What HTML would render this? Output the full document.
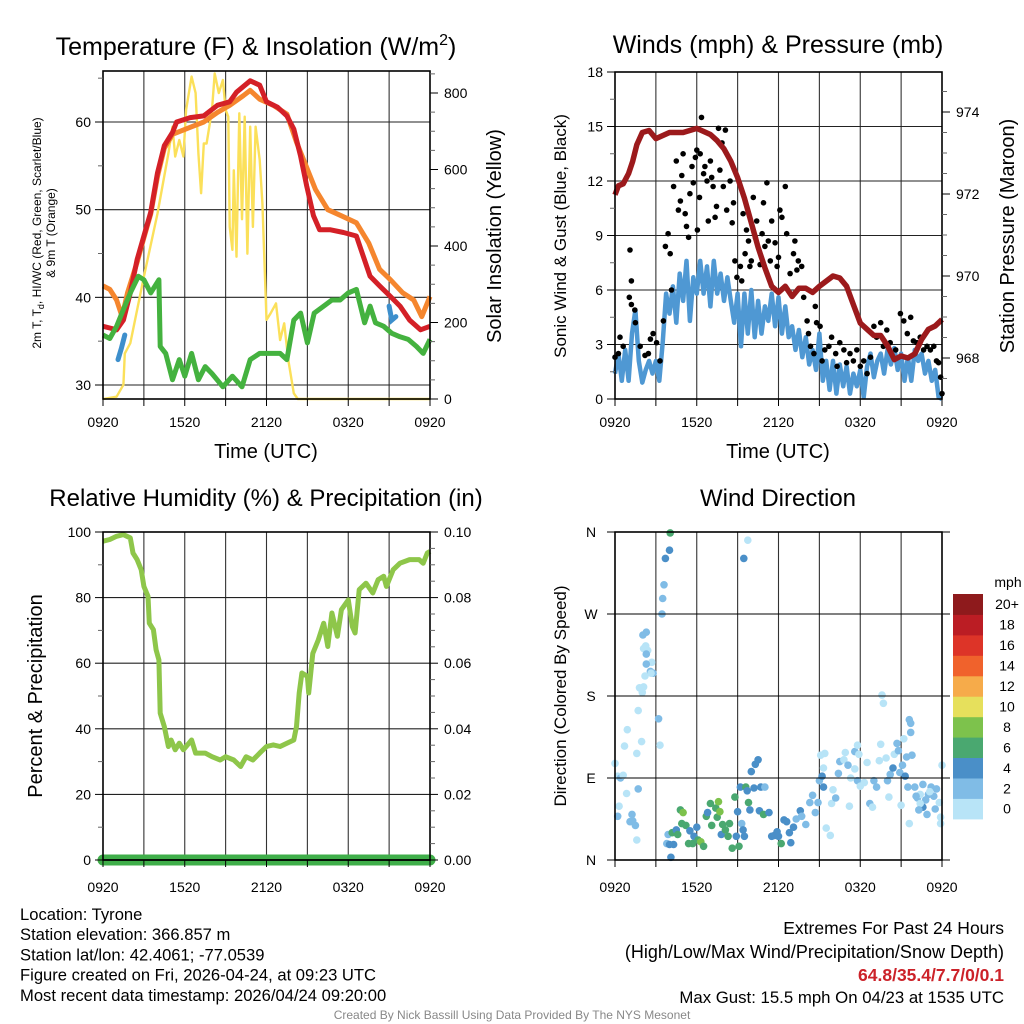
<!DOCTYPE html>
<html><head><meta charset="utf-8"><style>
html,body{margin:0;padding:0;background:#fff;}
svg{display:block;font-family:"Liberation Sans",Arial,sans-serif;}
</style></head><body>
<svg id="fig" width="1024" height="1024" viewBox="0 0 1024 1024"></svg>
<script>
// ---------- DATA ----------
const xTickLabels = ["0920","1520","2120","0320","0920"];
const tempTicks = [30,40,50,60];
const insolTicks = [0,200,400,600,800];
const windTicks = [0,3,6,9,12,15,18];
const presTicks = [968,970,972,974];
const rhTicks = [0,20,40,60,80,100];
const precipTicks = ["0.00","0.02","0.04","0.06","0.08","0.10"];
const dirTickLabels = ["N","E","S","W","N"];
const speedBins = ["0","2","4","6","8","10","12","14","16","18","20+"];
const speedColors = ["#b8e4f7","#80bce6","#4a8fc8","#4aa870","#7dc24c","#e6e05c","#f6ab4a","#f0622c","#dd3428","#bb1d24","#8e1a1c"];

const tHours = [0,0.5,1,1.5,2,2.5,3,3.5,4,4.5,5.1,5.4,6.4,7.4,8.4,9.3,9.8,10.8,11.5,12,12.8,13.5,14,14.5,14.95,15.45,15.9,16.7,17.65,18.6,19.1,19.6,20.3,21.1,21.8,22.5,23.3,24];
const temp2m = [36.7,36.5,36.3,37.4,40.5,44.3,47,49.7,54.2,57.3,58.8,60,60.5,60.7,61.9,62.3,63.4,64.7,64.2,62.3,61.7,60.7,59.2,56.1,52.7,49.3,47.7,47.7,47.4,47,44.7,42.4,41.3,40.1,39,37.4,36.3,36.7];
const oHours = [0,0.5,1,1.4,1.8,2.5,3,3.5,4,4.5,5.1,6.4,7.4,8.4,9.3,10.3,10.8,11.5,12.5,13.5,14.2,14.8,15.6,16.5,17.5,18.6,19.5,20.3,21.1,22,22.8,23.4,24];
const temp9m = [41.3,40.9,39.7,37.8,40.5,44,46.8,49.5,53.8,57,58.6,59.4,60,61.1,61.9,63,63.6,62.6,61.9,60.9,57.7,55.4,52.3,50,49.3,48.5,46.2,43.2,42,40.5,39.7,37.8,40.1];
const dHours = [0,0.5,1,1.5,2,2.6,3,3.5,4.1,4.2,4.6,5.1,5.6,6,6.5,7,7.5,8,8.8,9.5,10.2,10.8,11.5,12.3,13,13.5,14,14.5,15,15.5,16.2,16.8,17.4,18,18.6,19.2,19.6,20,20.6,21.2,21.8,22.4,23,23.5,24];
const dewpt = [35.7,35.3,36.7,38.6,40.5,42.4,42,40.5,42,34.4,33.6,30.6,32.9,31,33.6,30.6,32.1,31.3,29.8,31,29.8,32.9,33.6,33.6,33.6,32.9,37.4,38.2,34.8,38.2,39,39.7,39.7,40.5,40.9,37.1,39,37.1,36.7,35.9,35.5,35.2,34.4,33.6,35.2];
const wcHoursA = [1.1,1.35,1.6];
const wcA = [32.9,34.2,35.7];
const wcHoursB = [21,21.2,21.5];
const wcB = [39,37.4,37.8];
const iHours = [0,1,1.5,1.6,2,3,4,4.8,5.1,5.3,5.6,5.9,6.1,6.5,6.8,7,7.2,7.4,7.6,8,8.2,8.5,8.8,9,9.2,9.3,9.5,9.6,9.8,10,10.2,10.4,10.6,10.8,11,11.2,11.5,11.7,12,12.3,12.7,13,13.3,13.6,14,14.3,24];
const insol = [0,6,37,119,146,320,485,642,712,634,677,634,756,843,800,642,538,668,668,756,851,800,834,756,738,450,390,598,372,747,470,738,380,712,450,712,625,512,207,224,250,154,198,102,15,0,0];

const pHours = [0,0.25,0.6,1,1.3,1.6,2,2.5,3,4,5,6,7,7.5,8,8.5,9,9.5,10,10.5,11,11.5,12,12.5,13,13.5,14,14.5,15,16,16.5,17,17.5,18,18.5,19,19.5,20,20.5,21,21.5,22,22.5,23,23.5,24];
const pressure = [971.98,972.2,972.25,972.5,972.8,973.2,973.5,973.55,973.35,973.5,973.5,973.6,973.45,973.3,973.1,972.8,972.4,971.9,971.3,970.7,970.2,969.75,969.6,969.75,969.5,969.7,969.7,969.6,969.75,970,969.95,969.75,969.3,968.85,968.7,968.55,968.55,968.3,967.96,968.05,968,968.1,968.45,968.7,968.78,968.94];
const wHours = [0,0.25,0.5,0.75,1,1.25,1.5,1.75,2,2.25,2.5,2.75,3,3.25,3.5,3.75,4,4.25,4.5,4.75,5,5.25,5.5,5.75,6,6.25,6.5,6.75,7,7.25,7.5,7.75,8,8.25,8.5,8.75,9,9.25,9.5,9.75,10,10.25,10.5,10.75,11,11.25,11.5,11.75,12,12.25,12.5,12.75,13,13.25,13.5,13.75,14,14.25,14.5,14.75,15,15.25,15.5,15.75,16,16.25,16.5,16.75,17,17.25,17.5,17.75,18,18.25,18.5,18.75,19,19.25,19.5,19.75,20,20.25,20.5,20.75,21,21.25,21.5,21.75,22,22.25,22.5,22.75,23,23.25,23.5,23.75,24];
const sonic = [1.4,2.5,1.0,2.7,1.0,3.6,4.9,2.1,0.9,1.6,2.1,1.4,2.1,1.0,3.1,5.8,4.7,6.2,4.2,6.9,5.4,7.6,4.3,6.7,5.8,7.6,5.8,7.3,5.1,7.6,5.8,6.9,5.4,6.7,5.4,4.2,5.8,2.9,5.8,3.6,6.0,3.4,5.4,3.6,5.1,4.3,5.8,4.0,5.6,3.6,5.1,3.4,4.0,2.7,3.8,2.3,3.4,1.9,2.7,1.6,3.6,1.0,2.1,0.5,2.1,0.3,1.9,0.7,1.8,0.3,1.4,0.7,1.6,0.1,1.8,2.5,1.2,2.1,2.5,1.4,2.7,1.9,2.8,1.6,2.5,1.0,2.3,1.0,2.7,2.1,2.5,1.4,2.1,1.0,1.6,0.1,0];
const gustHours = [0,0.25,0.37,0.6,1.1,1.2,1.05,1.2,1.45,1.5,1.85,2.2,2.45,2.6,2.8,3.05,3.3,3.55,3.7,3.9,4.05,4.15,4.3,4.5,4.65,4.8,4.9,5,5.15,5.25,5.4,5.5,5.65,5.75,5.9,6,6.05,6.2,6.25,6.35,6.5,6.6,6.75,6.85,7,7.1,7.2,7.35,7.45,7.6,7.7,7.85,7.95,8.1,8.2,8.45,8.6,8.7,8.8,8.95,9.2,9.3,9.4,9.55,9.65,9.8,9.9,10,10.15,10.3,10.4,10.65,10.8,10.9,11,11.15,11.25,11.4,11.5,11.75,11.9,12,12.1,12.25,12.5,12.6,12.85,13.1,13.2,13.35,13.45,13.7,13.85,14.1,14.2,14.35,14.6,14.7,14.8,15.05,15.2,15.4,15.7,15.9,16.2,16.3,16.5,16.8,17,17.25,17.5,17.75,18,18.25,18.5,18.75,19,19.2,19.5,19.7,19.95,20.2,20.6,20.95,21.2,21.45,21.7,21.9,22.15,22.4,22.65,22.9,23.15,23.4,23.6,23.75,23.9,24];
const gusts = [2.3,2.5,3.4,2.9,8.2,6.5,5.6,5.2,4.9,4.2,2.9,2.4,2.5,3.3,3.6,3.1,2.1,4.3,8.4,9.1,8.0,6.0,11.7,13.1,10.4,10.9,12.3,13.5,10.2,9.5,8.9,11.3,12.8,11.9,13.3,13.7,9.3,11.1,13.5,15.5,12.4,12.8,12.0,9.8,13.1,12.2,11.7,10.0,10.6,14.9,12.6,14.1,11.7,14.8,10.4,12.0,9.7,10.8,7.6,6.7,7.3,6.5,10.2,8.0,9.3,8.7,7.3,7.6,11.1,8.9,9.8,7.4,9.1,10.8,8.4,11.9,8.7,7.6,9.8,8.6,7.3,7.8,10.4,10.0,11.7,9.1,6.9,8.0,8.7,7.1,7.6,7.3,5.6,4.3,3.6,2.9,2.5,5.1,4.2,4.0,2.1,2.7,2.9,3.4,2.5,1.8,3.1,2.7,2.0,2.5,2.1,2.7,1.8,2.1,1.4,2.3,4.0,3.4,4.2,2.9,3.8,3.1,2.7,4.7,4.3,3.6,4.5,3.2,3.1,3.4,2.7,2.9,2.7,2.9,2.1,2.0,1.2,0.3];

const rhHours = [0,0.5,1,1.5,2,2.2,2.5,2.8,3,3.3,3.4,3.7,3.9,4.1,4.2,4.5,4.8,5,5.3,5.6,5.9,6.5,6.8,7.5,8,8.6,9,9.6,10.1,10.5,11,11.5,12,12.5,13,13.5,14,14.2,14.4,14.6,15,15.1,15.4,15.8,16.2,16.5,16.8,17.2,17.5,18,18.3,18.5,18.8,19.3,19.8,20.2,20.6,20.8,21.3,21.8,22.5,23.2,23.5,23.8,24];
const rh = [97.2,97.7,98.7,99.2,98.2,93.6,91.6,88.5,83.4,80.4,72.2,70.2,64.1,61,44.8,40.7,34.6,36.6,33.6,35.6,33.6,36.6,32.6,32.6,31.5,30.5,31.5,30.5,28.5,31.5,30.5,32.6,34.6,35.1,34.6,35.6,36.6,40.7,50.9,57,56,50.9,63,67.1,72.2,65.1,75.3,68.2,76.3,79.3,71.2,69.2,82.4,84.4,81.4,85.5,86.5,83.4,88.5,90.5,91.6,91.6,90.5,93.6,94.1];
const precipHours = [0,24];
const precip = [0,0];

// wind direction observations (hour since 0920 UTC, degrees, mph)
const dirHours = [
 0,0.2,0.4,0.6,0.85,0.3,0.2,0.7,0.9,1.6,
 1.1,1.3,1.25,1.5,1.7,1.6,1.95,1.7,2.0,2.1,
 1.8,2.2,2.6,2.7,2.8,2.3,2.4,2.1,2.05,2.3,
 2.65,2.3,2.25,3.2,3.3,3.45,3.5,3.6,3.7,4.0,
 4.05,9.45,9.75,3.8,3.9,4.0,4.1,4.3,4.2,4.5,
 4.6,4.8,4.9,5.0,5.2,5.4,5.5,5.7,5.8,6.0,
 6.1,6.3,6.5,6.7,6.8,7.0,7.1,7.4,7.5,7.6,
 7.7,7.8,7.9,8.1,8.3,8.4,8.6,8.8,8.9,9.0,
 9.1,9.2,9.3,9.4,9.5,9.6,9.7,9.8,9.9,10.0,
 10.2,10.3,10.5,10.6,10.7,10.9,11.0,11.3,11.5,11.7,
 11.9,12.0,12.2,12.4,12.6,12.8,12.9,13.1,13.3,13.6,
 13.7,14.0,14.3,14.5,14.7,14.9,15.0,15.2,15.3,15.5,
 15.8,15.9,15.3,15.1,15.4,16.2,16.0,16.4,16.5,16.8,
 16.9,17.1,17.3,17.2,17.6,17.8,17.9,17.6,17.8,18.0,
 18.3,18.5,18.7,18.9,19.0,19.2,19.4,19.5,19.6,19.7,
 19.9,20.0,20.1,20.2,20.4,20.5,20.7,20.8,20.9,21.1,
 21.2,21.4,21.6,21.7,21.7,21.3,21.5,21.8,22.0,22.2,
 22.4,22.6,22.8,23.0,23.2,23.4,23.6,23.8,24.0,23.9,
 23.9,22.4,22.9,23.1,22.6,21.6,21.0,23.5,22.1,22.3];
const dirDeg = [
 106,92,90,93,73,59,48,125,143,22,
 42,43,50,38,78,117,130,164,184,190,
 189,202,207,217,205,215,230,232,247,226,
 205,250,235,155,126,270,287,302,331,340,
 359,331,351,18,28,17,3,17,30,33,
 28,55,40,52,38,18,32,18,26,36,
 22,20,15,48,52,62,38,57,47,64,
 53,28,39,33,26,40,13,69,26,53,
 15,80,40,33,26,80,76,63,55,97,
 79,105,110,54,80,50,80,52,26,27,
 31,26,18,44,42,30,19,36,45,54,
 48,39,63,71,52,63,87,92,80,35,
 27,62,101,115,117,68,77,95,108,110,
 118,104,90,59,119,126,116,100,87,81,
 85,107,62,58,87,80,109,127,181,172,
 112,87,69,94,101,116,128,120,96,104,
 133,113,154,150,140,92,80,115,80,68,
 72,58,66,72,80,70,78,63,104,47,
 40,62,50,75,83,40,60,56,70,55];
const dirSpeed = [
 1,1,3,1,1,1,3,1,1,1,
 3,3,3,3,3,1,1,1,1,1,
 1,1,3,1,3,3,1,1,3,3,
 1,3,1,3,1,3,3,3,5,5,
 7,5,1,3,3,5,5,5,7,5,
 7,7,7,9,7,7,5,7,5,5,
 7,9,7,7,5,7,7,7,7,9,
 9,5,7,7,7,7,7,7,5,5,
 7,5,3,5,5,7,5,7,5,5,
 5,5,5,5,5,7,3,5,5,5,
 5,5,7,5,5,5,5,5,3,5,
 3,3,3,3,3,3,3,5,5,1,
 1,1,1,1,1,3,1,3,3,1,
 1,3,1,1,3,1,1,1,3,1,
 1,1,3,1,3,3,1,1,1,1,
 1,3,1,3,5,1,3,3,3,3,
 1,3,3,3,3,5,3,3,3,3,
 1,5,3,3,3,3,3,1,1,1,
 1,1,3,1,3,1,1,3,3,3];

// ---------- HELPERS ----------
const NS = "http://www.w3.org/2000/svg";
const svg = document.getElementById("fig");
function mk(tag, attrs, parent){
  const e = document.createElementNS(NS, tag);
  for (const k in attrs) e.setAttribute(k, attrs[k]);
  (parent||svg).appendChild(e);
  return e;
}
function txt(s, x, y, size, anchor, parent, extra){
  const t = mk("text", Object.assign({x:x, y:y, "font-size":size, "text-anchor":anchor||"middle", fill:"#000"}, extra||{}), parent);
  t.textContent = s;
  return t;
}
function makeX(x0, x1){ return h => x0 + (x1 - x0) * h / 24; }
function makeY(v0, v1, y0, y1){ return v => y0 + (y1 - y0) * (v - v0) / (v1 - v0); }
function pathFrom(xs, ys, fx, fy){
  let d = "";
  for (let i = 0; i < xs.length; i++) d += (i ? "L" : "M") + fx(xs[i]).toFixed(1) + "," + fy(ys[i]).toFixed(1);
  return d;
}
function frame(g, x0, y0, x1, y1, hGrid, fy){
  for (let k = 1; k < 8; k++){
    const x = x0 + (x1 - x0) * k / 8;
    const l = mk("line", {x1:x, y1:y0, x2:x, y2:y1, stroke:"#333", "stroke-width":1.1}, g);
    
    
  }
  hGrid.forEach(v => {
    const y = fy(v);
    const l = mk("line", {x1:x0, y1:y, x2:x1, y2:y, stroke:"#222", "stroke-width":1.1}, g);
    
    
  });
}
function border(g, x0, y0, x1, y1){
  const r = mk("rect", {x:x0, y:y0, width:x1-x0, height:y1-y0, fill:"none", stroke:"#000", "stroke-width":1.6}, g);
  
  
}
function xAxis(g, x0, x1, yb, labY){
  for (let k = 0; k <= 8; k++){
    const x = x0 + (x1 - x0) * k / 8;
    mk("line", {x1:x, y1:yb, x2:x, y2:yb+7, stroke:"#000", "stroke-width":1}, g);
  }
  xTickLabels.forEach((s, i) => {
    const t = txt(s, x0 + (x1 - x0) * i / 4, labY, 14, "middle", g);
    
    
  });
}
function yTicksLeft(g, vals, fy, x0, labels, minorVals){
  vals.forEach((v, i) => {
    const y = fy(v);
    mk("line", {x1:x0-8, y1:y, x2:x0, y2:y, stroke:"#000", "stroke-width":1}, g);
    const t = txt(labels ? labels[i] : String(v), x0-12, y+5, 14, "end", g);
    
    
  });
  (minorVals||[]).forEach(v => { const y = fy(v); mk("line", {x1:x0-5, y1:y, x2:x0, y2:y, stroke:"#666", "stroke-width":1}, g); });
}
function yTicksRight(g, vals, fy, x1, labels, minorVals){
  vals.forEach((v, i) => {
    const y = fy(v);
    mk("line", {x1:x1, y1:y, x2:x1+8, y2:y, stroke:"#000", "stroke-width":1}, g);
    const t = txt(labels ? labels[i] : String(v), x1+14, y+5, 14, "start", g);
    
    
  });
  (minorVals||[]).forEach(v => { const y = fy(v); mk("line", {x1:x1, y1:y, x2:x1+5, y2:y, stroke:"#666", "stroke-width":1}, g); });
}
function rotTitle(g, s, x, y, size){
  return txt(s, 0, 0, size, "middle", g, {transform:"translate("+x+","+y+") rotate(-90)"});
}
function range(a, b, s){ const r=[]; for (let v=a; v<=b+1e-9; v+=s) r.push(+v.toFixed(4)); return r; }

// ---------- PANEL 1: Temperature ----------
(function(){
  const g = mk("g", {});
  
  
  const X0=103, X1=430, Y0=71, Y1=399;
  const fx = makeX(X0, X1);
  const fy = makeY(30, 60, 385, 122);
  const fi = makeY(0, 800, 399, 93);
  frame(g, X0, Y0, X1, Y1, tempTicks, fy);
  const insolLine = mk("path", {d:pathFrom(iHours, insol, fx, fi), fill:"none", stroke:"#fbe05a", "stroke-width":2.4, "stroke-linejoin":"round"}, g);
  
  
  const o = mk("path", {d:pathFrom(oHours, temp9m, fx, fy), fill:"none", stroke:"#f5862e", "stroke-width":5, "stroke-linejoin":"round"}, g);
  
  
  const r = mk("path", {d:pathFrom(tHours, temp2m, fx, fy), fill:"none", stroke:"#d42027", "stroke-width":5, "stroke-linejoin":"round"}, g);
  
  
  const d = mk("path", {d:pathFrom(dHours, dewpt, fx, fy), fill:"none", stroke:"#44b23f", "stroke-width":5, "stroke-linejoin":"round"}, g);
  
  
  [[wcHoursA,wcA],[wcHoursB,wcB]].forEach(p => {
    const w = mk("path", {d:pathFrom(p[0], p[1], fx, fy), fill:"none", stroke:"#3d8fcc", "stroke-width":5, "stroke-linecap":"round"}, g);
    
    
  });
  border(g, X0, Y0, X1, Y1);
  xAxis(g, X0, X1, Y1, 427);
  yTicksLeft(g, tempTicks, fy, X0, null, [35,45,55,65]);
  yTicksRight(g, insolTicks, fi, X1, null, range(50,850,50).filter(v=>v%200));
  const t = txt("Temperature (F) & Insolation (W/m", 256, 55, 25, "middle", g);
  const sup = mk("tspan", {dy:-10, "font-size":16}, t); sup.textContent = "2";
  const cl = mk("tspan", {dy:10}, t); cl.textContent = ")";
  
  
  const xt = txt("Time (UTC)", 266, 458, 20, "middle", g);
  
  
  const yt1 = rotTitle(g, "", 41, 233, 12);
  yt1.innerHTML = '2m T, T<tspan font-size="9" dy="3">d</tspan><tspan dy="-3">, HI/WC (Red, Green, Scarlet/Blue)</tspan>';
  
  
  const yt2 = rotTitle(g, "& 9m T (Orange)", 55, 233, 12);
  
  
  const rt = rotTitle(g, "Solar Insolation (Yellow)", 501, 236, 20);
  
  
})();

// ---------- PANEL 2: Winds ----------
(function(){
  const g = mk("g", {});
  
  
  const X0=615, X1=942, Y0=72, Y1=399;
  const fx = makeX(X0, X1);
  const fy = makeY(0, 18, 399, 72);
  const fp = makeY(968, 974, 358, 112);
  frame(g, X0, Y0, X1, Y1, windTicks, fy);
  const s = mk("path", {d:pathFrom(wHours, sonic, fx, fy), fill:"none", stroke:"#4f98d3", "stroke-width":4.5, "stroke-linejoin":"round"}, g);
  
  
  gustHours.forEach((h, i) => {
    const c = mk("circle", {cx:fx(h).toFixed(1), cy:fy(gusts[i]).toFixed(1), r:2.8, fill:"#000"}, g);
    
    
  });
  const p = mk("path", {d:pathFrom(pHours, pressure, fx, fp), fill:"none", stroke:"#9c1a1c", "stroke-width":5.5, "stroke-linejoin":"round"}, g);
  
  
  border(g, X0, Y0, X1, Y1);
  xAxis(g, X0, X1, Y1, 427);
  yTicksLeft(g, windTicks, fy, X0, null, range(1.5,16.5,3));
  yTicksRight(g, presTicks, fp, X1, null, range(967.5,974.5,0.5).filter(v=>v%2));
  const t = txt("Winds (mph) & Pressure (mb)", 778, 53, 25, "middle", g);
  
  
  const xt = txt("Time (UTC)", 778, 458, 20, "middle", g);
  
  
  const yt = rotTitle(g, "Sonic Wind & Gust (Blue, Black)", 566, 236, 17);
  
  
  const rt = rotTitle(g, "Station Pressure (Maroon)", 1014, 236, 20);
  
  
})();

// ---------- PANEL 3: RH ----------
(function(){
  const g = mk("g", {});
  
  
  const X0=103, X1=430, Y0=532, Y1=860;
  const fx = makeX(X0, X1);
  const fy = makeY(0, 100, 860, 532);
  const fpr = makeY(0, 0.1, 860, 532);
  frame(g, X0, Y0, X1, Y1, rhTicks.slice(1,5), fy);
  const pl = mk("path", {d:pathFrom(precipHours, precip, fx, fpr), fill:"none", stroke:"#3fae49", "stroke-width":11, "stroke-linecap":"round"}, g);
  
  
  const r = mk("path", {d:pathFrom(rhHours, rh, fx, fy), fill:"none", stroke:"#8ec64a", "stroke-width":5, "stroke-linejoin":"round"}, g);
  
  
  border(g, X0, Y0, X1, Y1);
  mk("line", {x1:X0, y1:Y1, x2:X1, y2:Y1, stroke:"#000", "stroke-width":1.5}, g);
  xAxis(g, X0, X1, Y1, 892);
  yTicksLeft(g, rhTicks, fy, X0, null, range(10,90,20));
  yTicksRight(g, rhTicks, fy, X1, precipTicks, range(5,95,5).filter(v=>v%20));
  const t = txt("Relative Humidity (%) & Precipitation (in)", 266, 506, 24, "middle", g);
  
  
  const yt = rotTitle(g, "Percent & Precipitation", 42, 696, 20);
  
  
})();

// ---------- PANEL 4: Wind direction ----------
(function(){
  const g = mk("g", {});
  
  
  const X0=615, X1=942, Y0=532, Y1=860;
  const fx = makeX(X0, X1);
  const fy = makeY(0, 360, 860, 532);
  frame(g, X0, Y0, X1, Y1, [90,180,270], fy);
  function colorFor(s){ let i = Math.floor((s||0)/2); if (i > 10) i = 10; return speedColors[i]; }
  dirHours.forEach((h, i) => {
    const c = mk("circle", {cx:fx(h).toFixed(1), cy:fy(dirDeg[i]).toFixed(1), r:3.8, fill:colorFor(dirSpeed[i])}, g);
    
    
  });
  border(g, X0, Y0, X1, Y1);
  xAxis(g, X0, X1, Y1, 892);
  [0,90,180,270,360].forEach((v, i) => {
    const y = fy(v);
    mk("line", {x1:X0-8, y1:y, x2:X1+8, y2:y, stroke:"#000", "stroke-width":1}, g);
    const t = txt(dirTickLabels[i], 591, y+5, 14, "middle", g);
    
    
  });
  const t = txt("Wind Direction", 778, 506, 24, "middle", g);
  
  
  const yt = rotTitle(g, "Direction (Colored By Speed)", 566, 696, 17);
  
  
  const cb = mk("g", {}, g);
  
  
  const top = 594, h = 20.45;
  speedBins.forEach((lab, i) => {
    const y = top + (10 - i) * h;
    const r = mk("rect", {x:953, y:y.toFixed(1), width:30, height:(h+0.5).toFixed(1), fill:speedColors[i]}, cb);
    
    
    const tl = txt(lab, 1007, y + h/2 + 5, 14, "middle", cb);
    
    
  });
  const u = txt("mph", 1008, 587, 14, "middle", cb);
  
  
})();

// ---------- FOOTER TEXT ----------
(function(){
  const g = mk("g", {});
  
  
  const lines = ["Location: Tyrone","Station elevation: 366.857 m","Station lat/lon: 42.4061; -77.0539","Figure created on Fri, 2026-04-24, at 09:23 UTC","Most recent data timestamp: 2026/04/24 09:20:00"];
  lines.forEach((s, i) => {
    const t = txt(s, 20, 920 + i*20.2, 16.6, "start", g);
    
    
  });
  const g2 = mk("g", {});
  
  
  const a = txt("Extremes For Past 24 Hours", 1004, 934, 17.5, "end", g2);
  
  
  const b = txt("(High/Low/Max Wind/Precipitation/Snow Depth)", 1004, 958, 18, "end", g2);
  
  
  const c = txt("64.8/35.4/7.7/0/0.1", 1004, 981, 17.5, "end", g2, {fill:"#cc2229", "font-weight":"bold"});
  
  
  const d = txt("Max Gust: 15.5 mph On 04/23 at 1535 UTC", 1004, 1003, 16.8, "end", g2);
  
  
  const e = txt("Created By Nick Bassill Using Data Provided By The NYS Mesonet", 512, 1019, 12, "middle", svg, {fill:"#888"});
  
  
})();
</script>
</body></html>
